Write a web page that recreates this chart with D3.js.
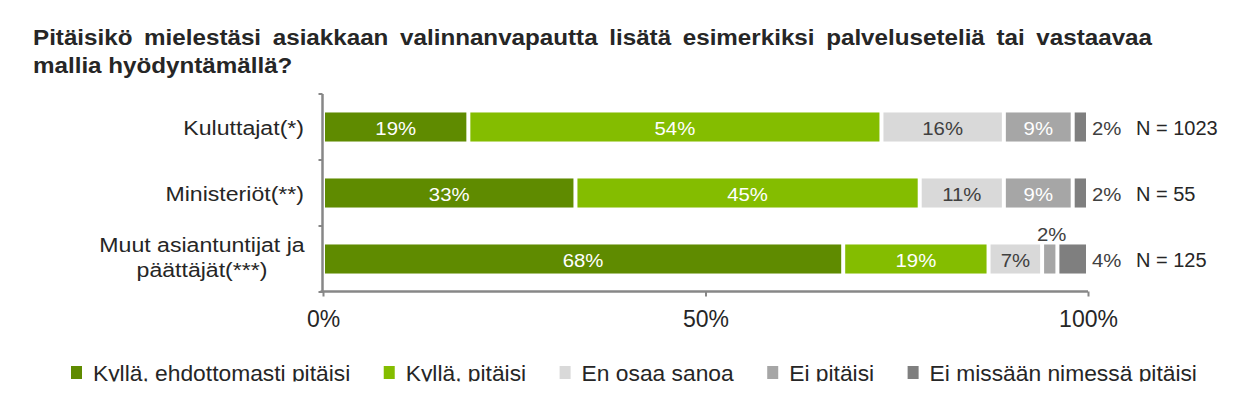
<!DOCTYPE html>
<html>
<head>
<meta charset="utf-8">
<script src="https://cdn.jsdelivr.net/npm/d3@7"></script>
<style>
  html, body { margin: 0; padding: 0; background: #ffffff; }
  svg { display: block; font-family: "Liberation Sans", Arial, sans-serif; }
</style>
</head>
<body>
<svg id="chart" width="1253" height="416"></svg>
<script>
// ---------------- data ----------------
const titleLines = [
  "Pitäisikö mielestäsi asiakkaan valinnanvapautta lisätä esimerkiksi palveluseteliä tai vastaavaa",
  "mallia hyödyntämällä?"
];
const categories = ["Kuluttajat(*)", "Ministeriöt(**)", "Muut asiantuntijat ja\npäättäjät(***)"];
const seriesNames = ["Kyllä, ehdottomasti pitäisi", "Kyllä, pitäisi", "En osaa sanoa", "Ei pitäisi", "Ei missään nimessä pitäisi"];
const kyllaEhdottomasti = [19, 33, 68];
const kyllaPitaisi = [54, 45, 19];
const enOsaaSanoa = [16, 11, 7];
const eiPitaisi = [9, 9, 2];
const eiMissaanNimessa = [2, 2, 4];
const sampleSizes = ["N = 1023", "N = 55", "N = 125"];
const xTickValues = [0, 50, 100];

// ---------------- styles ----------------
const seriesColors = ["#5f8b00", "#84bd00", "#d9d9d9", "#a6a6a6", "#7f7f7f"];
const labelColors = ["#ffffff", "#ffffff", "#404040", "#ffffff", "#404040"];
const textColor = "#262626";
const axisColor = "#878787";
const SX = 1.1; // horizontal stretch of the reference text

const seriesValues = [kyllaEhdottomasti, kyllaPitaisi, enOsaaSanoa, eiPitaisi, eiMissaanNimessa];
const rows = categories.map((c, i) => {
  const o = { cat: c };
  seriesNames.forEach((s, j) => { o[s] = seriesValues[j][i]; });
  return o;
});

const svg = d3.select("#chart");

function stretchedText(parent, x, y, str, opts) {
  const g = parent.append("g").attr("transform", `translate(${x},${y}) scale(${opts.sx || 1},1)`);
  const t = g.append("text")
    .attr("x", 0).attr("y", 0)
    .attr("text-anchor", opts.anchor || "start")
    .style("font-size", opts.size + "px")
    .style("font-weight", opts.weight || "normal")
    .attr("fill", opts.fill || textColor)
    .text(str);
  return t;
}

// ---------------- title ----------------
const titleX = 33, titleRight = 1152;
titleLines.forEach((line, i) => {
  const t = stretchedText(svg, titleX, 45 + i * 28, line, { size: 22, weight: "bold", sx: SX });
  if (i === 0) {
    const natural = t.node().getComputedTextLength();
    const spaces = line.split(" ").length - 1;
    const ws = ((titleRight - titleX) / SX - natural) / spaces;
    t.attr("word-spacing", ws);
  }
});

// ---------------- scales ----------------
const x = d3.scaleLinear().domain([0, 100]).range([323, 1088]);
const y = d3.scaleBand().domain(categories).range([94, 292]).paddingInner(0.56).paddingOuter(0.28);

const stack = d3.stack().keys(seriesNames);
const stacked = stack(rows);
const gap = 4;

// ---------------- bars ----------------
const barsG = svg.append("g");
stacked.forEach((layer, si) => {
  barsG.selectAll(null)
    .data(layer)
    .enter().append("rect")
    .attr("x", d => x(d[0]) + gap / 2)
    .attr("y", d => y(d.data.cat))
    .attr("width", d => Math.max(0, x(d[1]) - x(d[0]) - gap))
    .attr("height", y.bandwidth())
    .attr("fill", seriesColors[si]);
});

// ---------------- value labels ----------------
const labG = svg.append("g");
stacked.forEach((layer, si) => {
  layer.forEach(d => {
    const v = d[1] - d[0];
    const cy = y(d.data.cat) + y.bandwidth() / 2;
    const txt = v + "%";
    if (v >= 5) {
      stretchedText(labG, (x(d[0]) + x(d[1])) / 2, cy + 8, txt,
        { size: 18.5, sx: SX, anchor: "middle", fill: labelColors[si] });
    } else if (si === seriesNames.length - 1) {
      stretchedText(labG, x(100) + 4, cy + 8, txt,
        { size: 18.5, sx: SX, anchor: "start", fill: "#404040" });
    } else {
      stretchedText(labG, (x(d[0]) + x(d[1])) / 2 + 2, y(d.data.cat) - 3, txt,
        { size: 18.5, sx: SX, anchor: "middle", fill: "#404040" });
    }
  });
});

// ---------------- N labels ----------------
categories.forEach((c, i) => {
  const cy = y(c) + y.bandwidth() / 2;
  stretchedText(svg, x(100) + 48, cy + 8, sampleSizes[i], { size: 20, sx: 1.0, fill: textColor });
});

// ---------------- category labels ----------------
categories.forEach(c => {
  const lines = c.split("\n");
  const cy = y(c) + y.bandwidth() / 2;
  if (lines.length === 1) {
    stretchedText(svg, 304, cy + 7.5, lines[0], { size: 21, sx: SX, anchor: "end" });
  } else {
    const lh = 25;
    const first = cy - 7.5;
    lines.forEach((ln, k) => {
      stretchedText(svg, 202, first + k * lh, ln, { size: 21, sx: SX, anchor: "middle" });
    });
  }
});

// ---------------- axes ----------------
const axG = svg.append("g");
const y0 = y.range()[0], y1 = y.range()[1];
const axisX = x(0) - 0.5;
axG.append("line")
  .attr("x1", axisX).attr("x2", axisX)
  .attr("y1", y0).attr("y2", y1 + 1)
  .attr("stroke", axisColor).attr("stroke-width", 2.5);
const bounds = categories.map(c => y(c) - (y.step() - y.bandwidth()) / 2).concat([y1]);
axG.selectAll(null).data(bounds).enter().append("line")
  .attr("x1", axisX - 4).attr("x2", axisX)
  .attr("y1", d => d).attr("y2", d => d)
  .attr("stroke", axisColor).attr("stroke-width", 2);

const xAxis = d3.axisBottom(x).tickValues(xTickValues).tickFormat(d => d + "%").tickSize(5).tickSizeOuter(0);
const xg = svg.append("g").attr("transform", `translate(0,${y1 - 0.5})`).call(xAxis);
xg.select(".domain").attr("stroke", axisColor).attr("stroke-width", 2.5)
  .attr("d", `M${axisX - 2},0H${x(100)}`);
xg.selectAll(".tick line").attr("stroke", axisColor).attr("stroke-width", 2);
xg.selectAll(".tick text")
  .attr("y", 35).attr("dy", 0)
  .attr("fill", textColor)
  .style("font-size", "23px")
  .style("font-family", "'Liberation Sans', Arial, sans-serif");

// ---------------- legend ----------------
const defs = svg.append("defs");
defs.append("clipPath").attr("id", "legclip")
  .append("rect").attr("x", 0).attr("y", 340).attr("width", 1253).attr("height", 41.5);
const legG = svg.append("g").attr("clip-path", "url(#legclip)");
let lx = 71;
seriesNames.forEach((s, i) => {
  legG.append("rect")
    .attr("x", lx).attr("y", 366)
    .attr("width", 11).attr("height", 13)
    .attr("fill", seriesColors[i]);
  const t = legG.append("text")
    .attr("x", lx + 22).attr("y", 380.5)
    .style("font-size", "22.8px")
    .attr("fill", textColor)
    .text(s);
  lx += 22 + t.node().getComputedTextLength() + 33.5;
});
</script>
</body>
</html>
